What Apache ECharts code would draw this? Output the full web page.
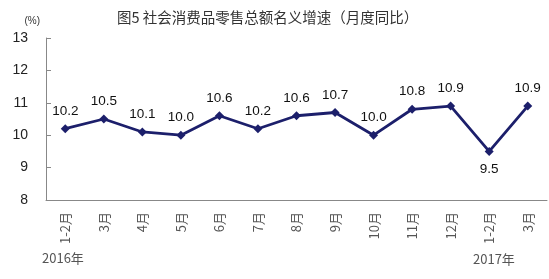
<!DOCTYPE html>
<html><head><meta charset="utf-8">
<script src="https://cdn.jsdelivr.net/npm/echarts@6/dist/echarts.min.js"></script>
<style>html,body{margin:0;padding:0;background:#fff}#c{width:549px;height:279px}</style>
</head><body><div id="c"></div>
<script>
const titleText = '图5 社会消费品零售总额名义增速（月度同比）';
const categories = ['1-2月','3月','4月','5月','6月','7月','8月','9月','10月','11月','12月','1-2月','3月'];
const values = [10.2,10.5,10.1,10.0,10.6,10.2,10.6,10.7,10.0,10.8,10.9,9.5,10.9];
const yearLabels = ['2016年','2017年'];
const yUnit = '(%)';

const chart = echarts.init(document.getElementById('c'), null, {renderer:'canvas'});
chart.setOption({
  backgroundColor:'#fff',
  animation:false,
  title:{text:titleText,left:112,top:5,textStyle:{fontFamily:'Noto Sans CJK SC',fontSize:14.5,fontWeight:'normal',color:'#333'}},
  grid:{left:46,right:2,top:38,bottom:79},
  xAxis:{type:'category',data:categories,boundaryGap:true,
    axisLine:{lineStyle:{color:'#888',width:1}},
    axisTick:{inside:true,length:4,lineStyle:{color:'#888'}},
    axisLabel:{rotate:90,margin:12,fontFamily:'Noto Sans CJK SC',fontSize:13,color:'#555',interval:0}},
  yAxis:{type:'value',min:8,max:13,interval:1,name:yUnit,nameLocation:'end',nameGap:12,
    nameTextStyle:{fontFamily:'Liberation Sans, Arial',fontSize:10,color:'#333',align:'right',padding:[0,6,0,0]},
    splitLine:{show:false},
    axisLine:{show:true,lineStyle:{color:'#888',width:1}},
    axisTick:{show:true,inside:true,length:5,lineStyle:{color:'#888'}},
    axisLabel:{margin:18,fontFamily:'Liberation Sans, Arial',fontSize:14,color:'#222'}},
  graphic:[
    {type:'text',left:42,top:252,style:{text:yearLabels[0],font:'13px "Noto Sans CJK SC"',fill:'#555'}},
    {type:'text',left:473,top:253,style:{text:yearLabels[1],font:'13px "Noto Sans CJK SC"',fill:'#555'}}
  ],
  series:[{type:'line',data:values.map((v,i)=>({value:v,label:{position: i===11?'bottom':'top'}})),
    lineStyle:{color:'#1c1f6b',width:2.8},
    itemStyle:{color:'#1c1f6b'},
    symbol:'diamond',symbolSize:9,
    label:{show:true,position:'top',distance:6,fontFamily:'Liberation Sans, Arial',fontSize:13.5,color:'#111',
      formatter:p=>p.value.toFixed(1)}}]
});
</script></body></html>
